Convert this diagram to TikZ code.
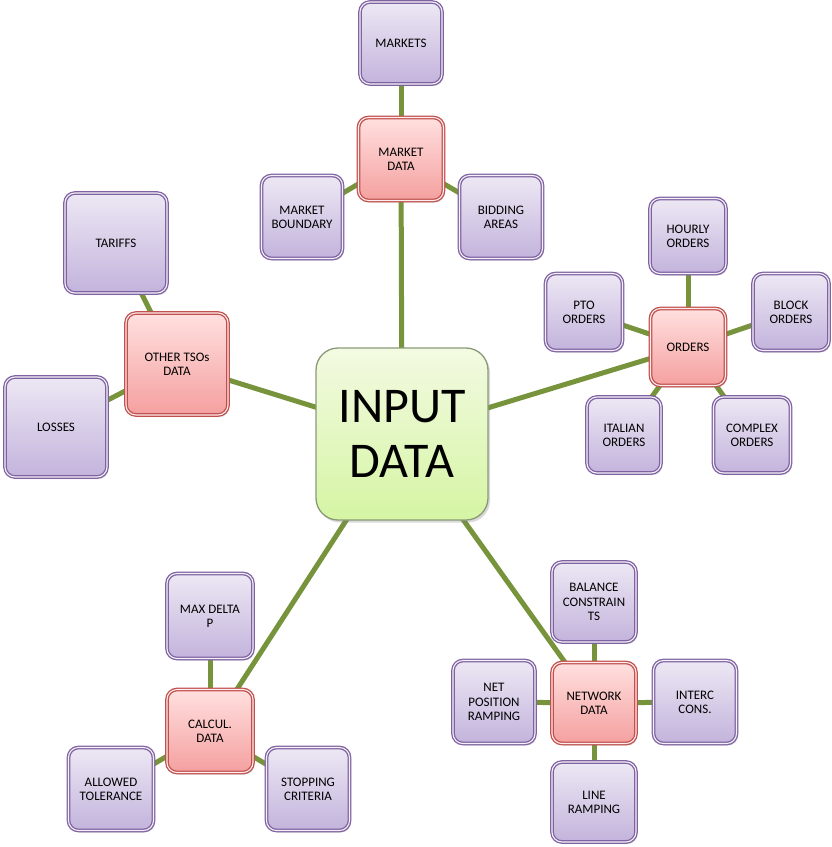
\documentclass[tikz,border=0pt]{standalone}
\usepackage{fontspec}
\setmainfont{Carlito}
\usetikzlibrary{shadows,backgrounds}
\definecolor{purB}{HTML}{7F62A1}
\definecolor{purT}{HTML}{EDE8F4}
\definecolor{purBo}{HTML}{C3B3DC}
\definecolor{redB}{HTML}{C0504D}
\definecolor{redT}{HTML}{FFE0DF}
\definecolor{redBo}{HTML}{F4A09F}
\definecolor{grnB}{HTML}{8A9A78}
\definecolor{grnT}{HTML}{F3FAE2}
\definecolor{grnBo}{HTML}{D5F5A3}
\definecolor{link}{HTML}{77933C}
\tikzset{
  leaf/.style={draw=purB, double=purT!60!white, double distance=1.1pt, line width=1.3pt,
    top color=purT, bottom color=purBo, rounded corners=10pt,
    inner sep=0pt, align=center, font=\fontsize{13}{14.2}\selectfont,
    drop shadow={opacity=0.3, shadow xshift=1.5pt, shadow yshift=-2pt}},
  hub/.style={draw=redB, double=redT!60!white, double distance=1.1pt, line width=1.3pt,
    top color=redT, bottom color=redBo, rounded corners=10pt,
    inner sep=0pt, align=center, font=\fontsize{13}{14.2}\selectfont,
    drop shadow={opacity=0.3, shadow xshift=1.5pt, shadow yshift=-2pt}},
  core/.style={draw=grnB, line width=1.3pt, top color=grnT, bottom color=grnBo,
    rounded corners=22pt, inner sep=0pt, align=center,
    font=\fontsize{50}{55}\selectfont,
    drop shadow={opacity=0.3, shadow xshift=2pt, shadow yshift=-2.5pt}},
  sz/.style 2 args={minimum width=#1pt, minimum height=#2pt},
  conn/.style={draw=link, line width=5pt}
}
\begin{document}
\begin{tikzpicture}[x=1pt,y=-1pt]
\useasboundingbox (0,0) rectangle (831,847);
% core
\node[core, sz={172}{172}] (in) at (402,434) {INPUT\\DATA};
% market
\node[hub, sz={85}{83}] (md) at (401,159) {MARKET\\DATA};
\node[leaf, sz={82}{82}] (mk) at (401,43) {MARKETS};
\node[leaf, sz={81}{83}] (mb) at (302,217) {MARKET\\BOUNDARY};
\node[leaf, sz={83}{83}] (ba) at (501,217) {BIDDING\\AREAS};
% orders
\node[hub, sz={75}{77}] (or) at (688,347) {ORDERS};
\node[leaf, sz={76}{75}] (ho) at (688,236) {HOURLY\\ORDERS};
\node[leaf, sz={77}{77}] (po) at (584,312) {PTO\\ORDERS};
\node[leaf, sz={76}{77}] (bo) at (791,312) {BLOCK\\ORDERS};
\node[leaf, sz={74}{76}] (io) at (624,435) {ITALIAN\\ORDERS};
\node[leaf, sz={77}{76}] (co) at (752,435) {COMPLEX\\ORDERS};
% other TSOs
\node[hub, sz={102}{102}] (ot) at (177,364) {OTHER TSOs\\DATA};
\node[leaf, sz={102}{100}] (ta) at (116,243) {TARIFFS};
\node[leaf, sz={102}{100}] (lo) at (56,427) {LOSSES};
% network
\node[hub, sz={84}{81}] (nd) at (594,703) {NETWORK\\DATA};
\node[leaf, sz={84}{80}] (bc) at (594,602) {BALANCE\\CONSTRAIN\\TS};
\node[leaf, sz={82}{83}] (np) at (494,702) {NET\\POSITION\\RAMPING};
\node[leaf, sz={83}{83}] (ic) at (695,702) {INTERC\\CONS.};
\node[leaf, sz={84}{80}] (lr) at (594,802) {LINE\\RAMPING};
% calcul
\node[hub, sz={86}{83}] (cd) at (210,731) {CALCUL.\\DATA};
\node[leaf, sz={86}{85}] (dp) at (210,616) {MAX DELTA\\P};
\node[leaf, sz={85}{83}] (at) at (111,789) {ALLOWED\\TOLERANCE};
\node[leaf, sz={83}{83}] (sc) at (308,789) {STOPPING\\CRITERIA};
\begin{scope}[on background layer]
\draw[conn] (in.center) -- (md.center);
\draw[conn] (in.center) -- (or.center);
\draw[conn] (in.center) -- (ot.center);
\draw[conn] (in.center) -- (nd.center);
\draw[conn] (in.center) -- (cd.center);
\draw[conn] (md.center) -- (mk.center);
\draw[conn] (md.center) -- (mb.center);
\draw[conn] (md.center) -- (ba.center);
\draw[conn] (or.center) -- (ho.center);
\draw[conn] (or.center) -- (po.center);
\draw[conn] (or.center) -- (bo.center);
\draw[conn] (or.center) -- (io.center);
\draw[conn] (or.center) -- (co.center);
\draw[conn] (ot.center) -- (ta.center);
\draw[conn] (ot.center) -- (lo.center);
\draw[conn] (nd.center) -- (bc.center);
\draw[conn] (nd.center) -- (np.center);
\draw[conn] (nd.center) -- (ic.center);
\draw[conn] (nd.center) -- (lr.center);
\draw[conn] (cd.center) -- (dp.center);
\draw[conn] (cd.center) -- (at.center);
\draw[conn] (cd.center) -- (sc.center);
\end{scope}
\end{tikzpicture}
\end{document}
